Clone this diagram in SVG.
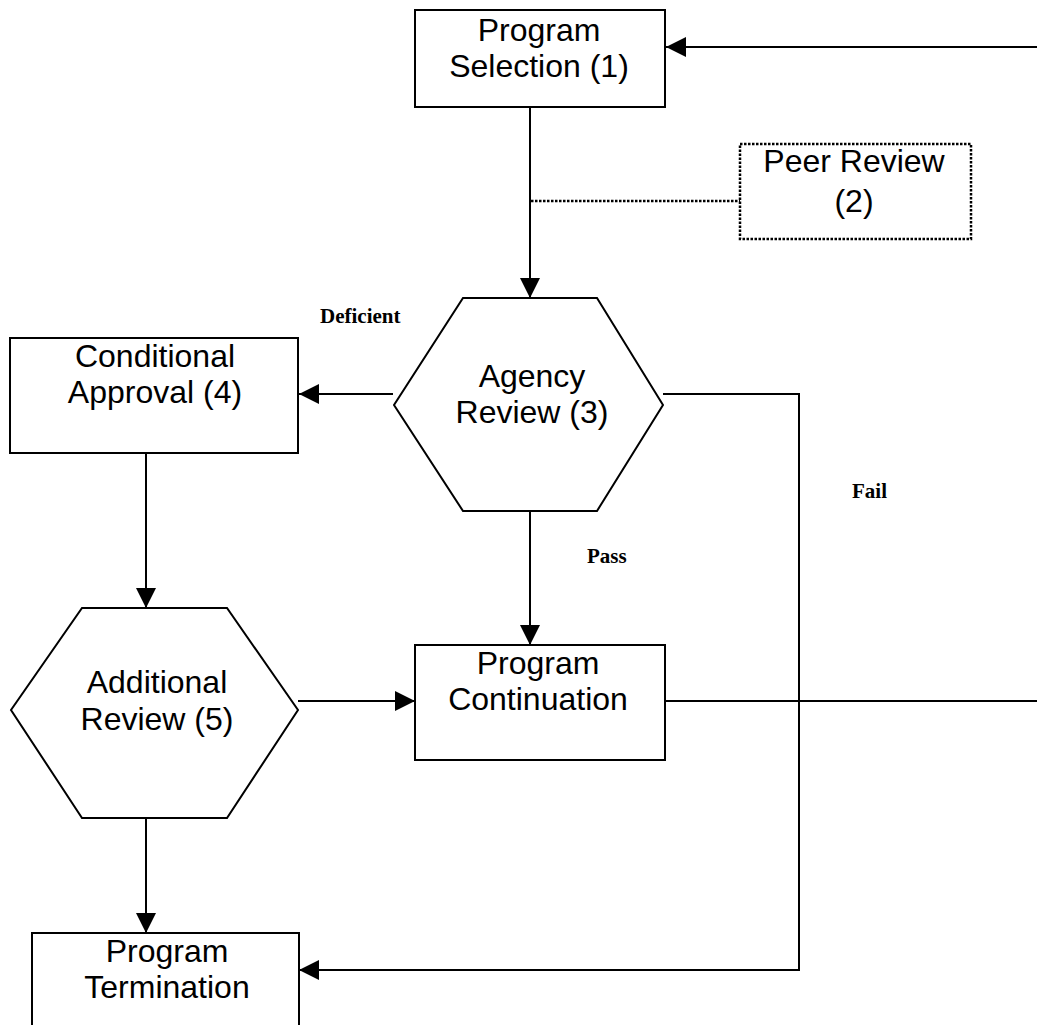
<svg xmlns="http://www.w3.org/2000/svg" width="1037" height="1025" viewBox="0 0 1037 1025">
<style>
.box{fill:#fff;stroke:#000;stroke-width:2}
.dot{fill:#fff;stroke:#000;stroke-width:2.5;stroke-dasharray:2.5 1.5}
.ln{fill:none;stroke:#000;stroke-width:2}
.arr{marker-end:url(#ah)}
.t{font-family:"Liberation Sans",Arial,sans-serif;font-size:32px;text-anchor:middle;fill:#000}
.lb{font-family:"Liberation Serif","Times New Roman",serif;font-size:21px;font-weight:bold;fill:#000}
</style>
<defs>
<marker id="ah" markerUnits="userSpaceOnUse" markerWidth="20" markerHeight="20" refX="20" refY="10" orient="auto">
<path d="M0,0 L20,10 L0,20 z" fill="#000"/>
</marker>
</defs>
<rect width="1037" height="1025" fill="#fff"/>
<g id="connectors">
<path class="ln arr" d="M1037,47 H666"/>
<path class="ln arr" d="M530,107 V298"/>
<path class="ln" d="M531,201 H740" style="stroke-dasharray:2.5 1.5;stroke-width:2.5"/>
<path class="ln arr" d="M393,394 H299"/>
<path class="ln arr" d="M663,394 H799 V970 H299"/>
<path class="ln arr" d="M530,511 V645"/>
<path class="ln arr" d="M146,453 V608"/>
<path class="ln arr" d="M298,701 H415"/>
<path class="ln" d="M665,701 H1037"/>
<path class="ln arr" d="M146,818 V933"/>
</g>
<g id="labels">
<text class="lb" x="320" y="323">Deficient</text>
<text class="lb" x="587" y="563">Pass</text>
<text class="lb" x="852" y="498">Fail</text>
</g>
<g id="program-selection">
<rect class="box" x="415" y="10" width="250" height="97"/>
<text class="t" x="539" y="41">Program</text>
<text class="t" x="539" y="77">Selection (1)</text>
</g>
<g id="peer-review">
<rect class="dot" x="740" y="144" width="231" height="95"/>
<text class="t" x="854" y="172">Peer Review</text>
<text class="t" x="854" y="212">(2)</text>
</g>
<g id="agency-review">
<polygon class="box" points="463,298 597,298 663,405 597,511 463,511 394,405"/>
<text class="t" x="532" y="387">Agency</text>
<text class="t" x="532" y="423">Review (3)</text>
</g>
<g id="conditional-approval">
<rect class="box" x="10" y="338" width="288" height="115"/>
<text class="t" x="155" y="367">Conditional</text>
<text class="t" x="155" y="403">Approval (4)</text>
</g>
<g id="additional-review">
<polygon class="box" points="82,608 227,608 298,710 227,818 82,818 11,710"/>
<text class="t" x="157" y="693">Additional</text>
<text class="t" x="157" y="730">Review (5)</text>
</g>
<g id="program-continuation">
<rect class="box" x="415" y="645" width="250" height="115"/>
<text class="t" x="538" y="674">Program</text>
<text class="t" x="538" y="710">Continuation</text>
</g>
<g id="program-termination">
<rect class="box" x="32" y="933" width="267" height="120"/>
<text class="t" x="167" y="962">Program</text>
<text class="t" x="167" y="998">Termination</text>
</g>
</svg>
